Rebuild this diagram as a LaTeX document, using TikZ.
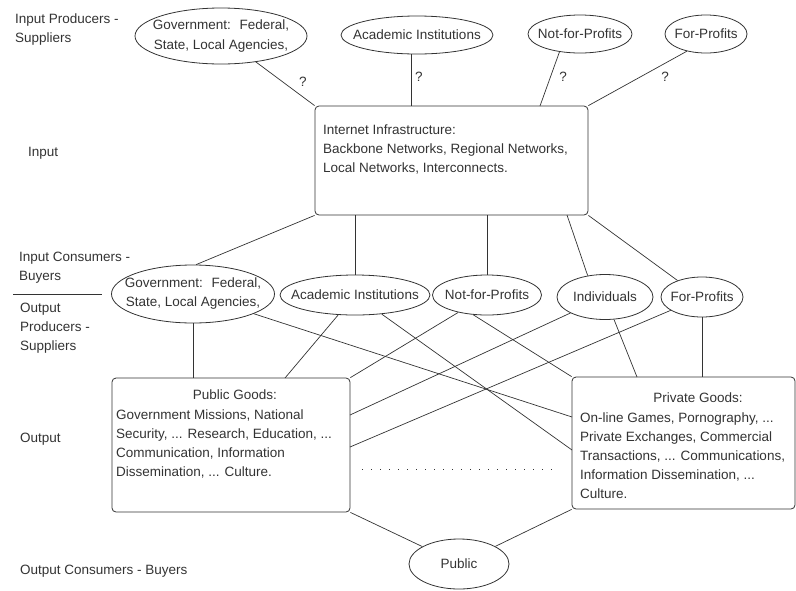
\documentclass[tikz,border=0pt]{standalone}
\usepackage{fontspec}
\setmainfont{Liberation Sans}
\usetikzlibrary{shapes.geometric}
\newcommand{\zw}[1]{\makebox[0pt]{#1}}
\begin{document}
\begin{tikzpicture}[x=1pt,y=-1pt,
  every node/.style={font=\fontsize{13.5}{19}\selectfont, text=black!80},
  lbl/.style={anchor=north west, inner sep=0pt, align=left},
  ell/.style={draw=black!80, ellipse, line width=0.8pt, inner sep=0pt, align=center},
  gbox/.style={draw=black!80, line width=0.8pt, rounded corners=4pt, rectangle, inner sep=0pt},
  conn/.style={draw=black!80, line width=0.7pt},
  qm/.style={inner sep=0pt}]
\useasboundingbox (0,0) rectangle (796,590);

% left labels
\node[lbl] (l1) at (15,14) {Input Producers -\\Suppliers};
\node[lbl] (l2) at (28,147) {Input};
\node[lbl] (l3) at (19,252) {Input Consumers -\\Buyers};
\coordinate (s1) at (13,294);
\coordinate (s2) at (102,294);
\draw[conn] (s1) -- (s2);
\node[lbl] (l4) at (20,303) {Output\\Producers -\\Suppliers};
\node[lbl] (l5) at (20,433) {Output};
\node[lbl] (l6) at (20,565) {Output Consumers - Buyers};

% top ellipses
\node[ell, minimum width=172pt, minimum height=56pt, font=\fontsize{13.5}{20}\selectfont] (gtop) at (221,36) {\zw{Government:~ Federal,}\\\zw{State, Local Agencies,}};
\node[ell, minimum width=152pt, minimum height=38pt] (atop) at (417,35) {\zw{Academic Institutions}};
\node[ell, minimum width=104pt, minimum height=38pt] (ntop) at (580,34) {\zw{Not-for-Profits}};
\node[ell, minimum width=82pt, minimum height=38pt] (ftop) at (706,34) {\zw{For-Profits}};

% internet box
\node[gbox, minimum width=273pt, minimum height=109pt] (inet) at (451.5,160.5) {};
\node[lbl] (inettxt) at (323,125) {Internet Infrastructure:\\Backbone Networks, Regional Networks,\\Local Networks, Interconnects.};

% middle ellipses
\node[ell, minimum width=163pt, minimum height=58pt] (gov2) at (193,294) {\zw{Government:~ Federal,}\\\zw{State, Local Agencies,}};
\node[ell, minimum width=150pt, minimum height=40pt] (acad2) at (355,295) {\zw{Academic Institutions}};
\node[ell, minimum width=109pt, minimum height=40pt] (nfp2) at (487,295) {\zw{Not-for-Profits}};
\node[ell, minimum width=96pt, minimum height=45pt] (indiv) at (605,297) {\zw{Individuals}};
\node[ell, minimum width=82pt, minimum height=40pt] (fp2) at (702,297) {\zw{For-Profits}};

% goods boxes
\node[gbox, minimum width=238pt, minimum height=134pt] (pubg) at (231,445) {};
\node[anchor=north, inner sep=0pt] (pubt) at (235,390) {Public Goods:};
\node[lbl] (pubb) at (116,410) {Government Missions, National\\Security, ... Research, Education, ...\\Communication, Information\\Dissemination, ... Culture.};

\node[gbox, minimum width=223pt, minimum height=132pt] (privg) at (683.5,443) {};
\node[anchor=north, inner sep=0pt] (privt) at (698,393) {Private Goods:};
\node[lbl] (privb) at (580,413) {On-line Games, Pornography, ...\\Private Exchanges, Commercial\\Transactions, ... Communications,\\Information Dissemination, ...\\Culture.};

% public ellipse
\node[ell, minimum width=100pt, minimum height=50pt] (pub) at (459,564) {\zw{Public}};

% coordinates
\coordinate (it2) at (411,106);
\coordinate (it3) at (540,106);
\coordinate (ib4) at (567,215);
\coordinate (pt1) at (285,378);
\coordinate (pe1) at (350,415);
\coordinate (pe2) at (350,447);
\coordinate (vl1) at (572,417);
\coordinate (vl2) at (572,450);
\coordinate (vt1) at (637,377);
\coordinate (d1) at (362,469);
\coordinate (d2) at (555,469);

% top connectors
\draw[conn] (gtop) -- (inet.north west);
\draw[conn] (atop.south -| it2) -- (it2);
\draw[conn] (ntop.221) -- (it3);
\draw[conn] (ftop.222) -- (inet.north east);
\node[qm] (q1) at (303,82) {?};
\node[qm] (q2) at (419,77) {?};
\node[qm] (q3) at (563,77) {?};
\node[qm] (q4) at (665,77) {?};

% internet to consumers
\draw[conn] (inet.south west) -- (gov2.84);
\draw[conn] (acad2.north) -- (acad2.north |- inet.south);
\draw[conn] (nfp2.north) -- (nfp2.north |- inet.south);
\draw[conn] (ib4) -- (indiv.129);
\draw[conn] (inet.south east) -- (fp2.146);

% producers to goods
\draw[conn] (gov2.south) -- (gov2.south |- pubg.north);
\draw[conn] (gov2) -- (vl1);
\draw[conn] (acad2) -- (pt1);
\draw[conn] (acad2) -- (vl2);
\draw[conn] (nfp2) -- (pubg.north east);
\draw[conn] (nfp2.235) -- (privg.north west);
\draw[conn] (indiv) -- (pe1);
\draw[conn] (fp2) -- (pe2);
\draw[conn] (indiv) -- (vt1);
\draw[conn] (fp2.south) -- (fp2.south |- privg.north);
\draw[conn, dash pattern=on 1pt off 8pt] (d1) -- (d2);

% goods to public
\draw[conn] (pubg.south east) -- (pub);
\draw[conn] (privg.south west) -- (pub);
\end{tikzpicture}
\end{document}
